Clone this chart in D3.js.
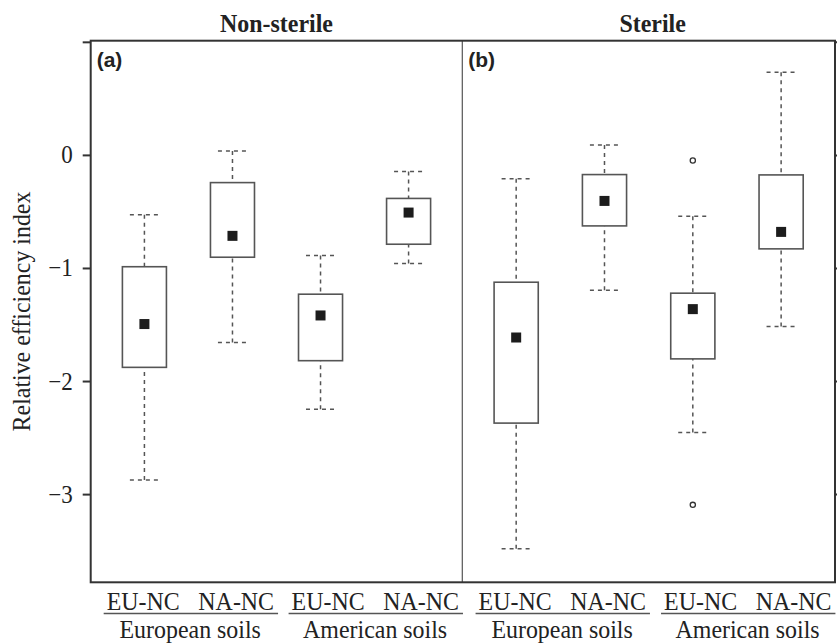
<!DOCTYPE html>
<html lang="en">
<head>
<meta charset="utf-8">
<title>Relative efficiency index</title>
<script src="https://d3js.org/d3.v7.min.js"></script>
<style>
  body { margin: 0; background: #fff; }
  svg text { fill: #222; }
  .serif { font-family: "Liberation Serif", "Times New Roman", serif; }
  .tag { font-family: "Liberation Sans", Arial, sans-serif; font-weight: bold; font-size: 21px; }
  .box { fill: #fff; stroke: #555; stroke-width: 1.6; }
  .whisker { stroke: #555; stroke-width: 1.5; stroke-dasharray: 4,4; fill: none; }
  .mean { fill: #1c1c1c; }
  .outlier { fill: none; stroke: #333; stroke-width: 1.3; }
</style>
</head>
<body>
<svg class="canvas"></svg>
<script>
// ---- data ----
var panels = ["Non-sterile", "Sterile"];
var panelTags = ["(a)", "(b)"];
var categories = ["EU-NC", "NA-NC", "EU-NC", "NA-NC"];
var soils = ["European soils", "American soils"];

var yTicks = [1, 0, -1, -2, -3];
var yTickLabels = ["", "0", "\u22121", "\u22122", "\u22123"];

// non-sterile
var nsLow  = [-2.875, -1.66, -2.25, -0.96];
var nsQ1   = [-1.879, -0.905, -1.82, -0.79];
var nsQ3   = [-0.989, -0.245, -1.232, -0.385];
var nsHigh = [-0.529, 0.035, -0.89, -0.147];
var nsMean = [-1.496, -0.716, -1.42, -0.51];
var nsOut  = [[], [], [], []];

// sterile
var stLow  = [-3.484, -1.196, -2.455, -1.518];
var stQ1   = [-2.372, -0.628, -1.804, -0.831];
var stQ3   = [-1.126, -0.174, -1.223, -0.177];
var stHigh = [-0.21, 0.088, -0.542, 0.731];
var stMean = [-1.615, -0.407, -1.364, -0.681];
var stOut  = [[], [], [-0.05, -3.095], []];

(function () {
  var width = 837, height = 643;
  var left = 90.7, mid = 462.3, right = 835, top = 40.7, bottom = 582.3;
  var squeeze = 0.92; // the original type is a little narrow

  var svg = d3.select('.canvas')
    .attr('width', width)
    .attr('height', height);

  // serif text, slightly condensed
  function stext(x, y, str, size, anchor, rot) {
    return svg.append('text').attr('class', 'serif')
      .attr('transform', 'translate(' + x + ',' + y + ')' + (rot ? ' rotate(' + rot + ')' : '') +
            ' scale(' + squeeze + ',1)')
      .attr('text-anchor', anchor || 'middle')
      .style('font-size', size + 'px')
      .text(str);
  }

  var y = d3.scaleLinear().domain([-3.78, 1.01]).range([bottom, top]);

  var panelData = [
    {low: nsLow, q1: nsQ1, q3: nsQ3, high: nsHigh, mean: nsMean, out: nsOut, x0: left, x1: mid},
    {low: stLow, q1: stQ1, q3: stQ3, high: stHigh, mean: stMean, out: stOut, x0: mid, x1: right}
  ];

  var boxW = 0.5, capW = 0.33, meanSize = 10;

  panelData.forEach(function (p, pi) {
    var x = d3.scaleLinear().domain([0.39, 4.61]).range([p.x0, p.x1]);
    var g = svg.append('g');
    var rows = categories.map(function (c, i) {
      return {i: i + 1, low: p.low[i], q1: p.q1[i], q3: p.q3[i], high: p.high[i], mean: p.mean[i], out: p.out[i]};
    });

    // whiskers
    rows.forEach(function (d) {
      g.append('line').attr('class', 'whisker')
        .attr('x1', x(d.i)).attr('x2', x(d.i))
        .attr('y1', y(d.high)).attr('y2', y(d.q3));
      g.append('line').attr('class', 'whisker')
        .attr('x1', x(d.i)).attr('x2', x(d.i))
        .attr('y1', y(d.low)).attr('y2', y(d.q1));
      [d.low, d.high].forEach(function (v) {
        g.append('line').attr('class', 'whisker')
          .attr('x1', x(d.i - capW / 2)).attr('x2', x(d.i + capW / 2))
          .attr('y1', y(v)).attr('y2', y(v));
      });
    });

    g.selectAll('rect.box').data(rows).enter().append('rect')
      .attr('class', 'box')
      .attr('x', function (d) { return x(d.i - boxW / 2); })
      .attr('width', function (d) { return x(d.i + boxW / 2) - x(d.i - boxW / 2); })
      .attr('y', function (d) { return y(d.q3); })
      .attr('height', function (d) { return y(d.q1) - y(d.q3); });

    g.selectAll('rect.mean').data(rows).enter().append('rect')
      .attr('class', 'mean')
      .attr('x', function (d) { return x(d.i) - meanSize / 2; })
      .attr('y', function (d) { return y(d.mean) - meanSize / 2; })
      .attr('width', meanSize).attr('height', meanSize);

    rows.forEach(function (d) {
      d.out.forEach(function (v) {
        g.append('circle').attr('class', 'outlier')
          .attr('cx', x(d.i)).attr('cy', y(v)).attr('r', 2.6);
      });
    });

    // panel title and tag
    stext((p.x0 + p.x1) / 2 + (pi ? 4 : 0), 32, panels[pi], 26).style('font-weight', 'bold');
    svg.append('text').attr('class', 'tag')
      .attr('x', p.x0 + 6).attr('y', 67)
      .text(panelTags[pi]);

    // category labels, grouped by soil origin
    var groupAt = [1.52, 3.62];
    soils.forEach(function (s, si) {
      var cx = x(groupAt[si]);
      var a = stext(cx - 47, 610, categories[si * 2], 26);
      var b = stext(cx + 46, 610, categories[si * 2 + 1], 26);
      var wa = a.node().getComputedTextLength() * squeeze;
      var wb = b.node().getComputedTextLength() * squeeze;
      svg.append('line')
        .attr('x1', cx - 47 - wa / 2 - 3).attr('x2', cx + 46 + wb / 2 + 4)
        .attr('y1', 613.5).attr('y2', 613.5)
        .attr('stroke', '#555').attr('stroke-width', 1.5);
      stext(cx, 637.5, s, 26);
    });
  });

  // frame and divider
  svg.append('line')
    .attr('x1', mid).attr('x2', mid).attr('y1', top).attr('y2', bottom)
    .attr('stroke', '#555').attr('stroke-width', 1.2);
  svg.append('rect')
    .attr('x', left).attr('y', top)
    .attr('width', right - left).attr('height', bottom - top)
    .attr('fill', 'none').attr('stroke', '#333').attr('stroke-width', 2);

  // axes (ticks only; labels drawn as condensed serif text)
  var yAxis = d3.axisLeft(y).tickValues(yTicks).tickSize(8).tickSizeOuter(0).tickFormat('');
  var ax = svg.append('g').attr('transform', 'translate(' + left + ',0)').call(yAxis);
  ax.select('.domain').remove();
  ax.selectAll('line').attr('stroke', '#333').attr('stroke-width', 2);
  yTicks.forEach(function (v, i) {
    if (yTickLabels[i]) stext(left - 18, y(v) + 8.5, yTickLabels[i], 25, 'end');
  });

  var rAxis = d3.axisRight(y).tickValues(yTicks).tickSize(8).tickSizeOuter(0).tickFormat('');
  var rx = svg.append('g').attr('transform', 'translate(' + right + ',0)').call(rAxis);
  rx.select('.domain').remove();
  rx.selectAll('line').attr('stroke', '#333').attr('stroke-width', 2);

  stext(30, (top + bottom) / 2, 'Relative efficiency index', 26, 'middle', -90);
})();
</script>
</body>
</html>
